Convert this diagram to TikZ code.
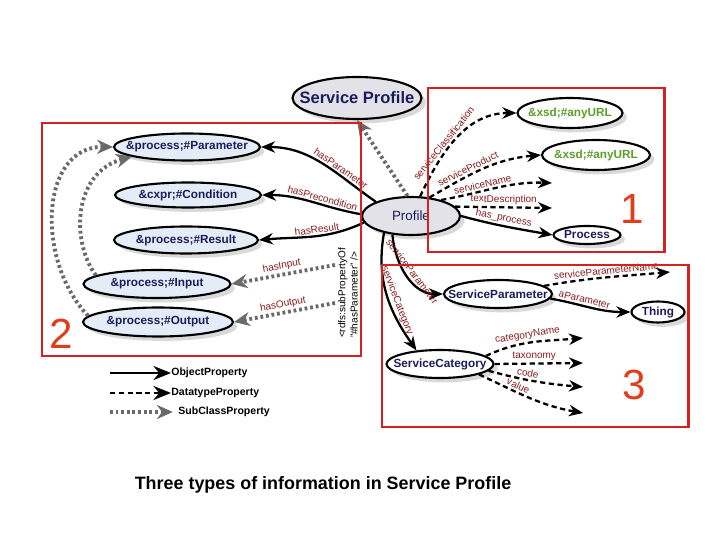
\documentclass[tikz,border=0pt]{standalone}
\usepackage{fontspec}
\setmainfont{Liberation Sans}
\usetikzlibrary{shapes.geometric,arrows.meta,shadows}

\definecolor{labred}{HTML}{8B1A1A}
\definecolor{navy}{HTML}{1C1C5C}
\definecolor{urlgreen}{HTML}{5E9E2C}
\definecolor{paleblue}{HTML}{E4ECF8}
\definecolor{palegray}{HTML}{E2E2E8}
\definecolor{boxred}{HTML}{D42222}
\definecolor{numred}{HTML}{E23C1A}
\definecolor{subgray}{HTML}{6A6A6A}

\tikzset{
  oval/.style={ellipse, draw, line width=1.2pt, inner sep=0pt, fill=white, text=navy,
    font=\fontsize{6.7}{8}\bfseries,
    drop shadow={shadow xshift=2.5pt, shadow yshift=-2.5pt, opacity=0.3},
    execute at begin node={\hbox to 0pt\bgroup\hss},
    execute at end node={\hss\egroup}},
  inoval/.style={oval, fill=paleblue},
  urloval/.style={oval, text=urlgreen},
  objp/.style={line width=1.3pt, -{Stealth[length=8pt,width=6.5pt]}},
  datp/.style={line width=1.3pt, dash pattern=on 3pt off 2pt, -{Stealth[length=8pt,width=6.5pt]}},
  subp/.style={draw=subgray, line width=2.2pt, dash pattern=on 1.6pt off 1.6pt,
    -{Stealth[length=9pt,width=8pt,fill=subgray]}},
  elab/.style={font=\fontsize{5.7}{6.5}\selectfont, text=labred, sloped, above, inner sep=1pt},
  legtxt/.style={font=\fontsize{6}{7}\bfseries, anchor=west, inner sep=0pt},
  regbox/.style={draw=boxred, line width=1.7pt},
  regnum/.style={font=\fontsize{24}{26}\selectfont, text=numred, inner sep=0pt}
}

\begin{document}
\begin{tikzpicture}[x=0.02cm, y=0.02cm]
\useasboundingbox (0,0) rectangle (720,-540);

% top and centre
\node[oval, fill=palegray, minimum width=2.58cm, minimum height=0.84cm,
  font=\fontsize{9.4}{11}\bfseries] (sprof) at (357,-98) {Service Profile};
\node[oval, fill=palegray, minimum width=1.96cm, minimum height=0.76cm,
  font=\fontsize{7.6}{9}\selectfont] (prof) at (411,-216) {Profile};

% region 2
\node[inoval, minimum width=2.92cm, minimum height=0.54cm] (param) at (187,-147) {\&process;\#Parameter};
\node[inoval, minimum width=2.92cm, minimum height=0.5cm] (cond) at (188,-195) {\&cxpr;\#Condition};
\node[inoval, minimum width=2.88cm, minimum height=0.54cm] (result) at (186,-240) {\&process;\#Result};
\node[inoval, minimum width=2.94cm, minimum height=0.56cm] (input) at (157,-284) {\&process;\#Input};
\node[inoval, minimum width=3cm, minimum height=0.58cm] (output) at (158,-322) {\&process;\#Output};

% region 1
\node[urloval, minimum width=2.1cm, minimum height=0.6cm] (url1) at (570,-113) {\&xsd;\#anyURL};
\node[urloval, minimum width=2.16cm, minimum height=0.6cm] (url2) at (596,-155) {\&xsd;\#anyURL};
\node[oval, minimum width=1.34cm, minimum height=0.36cm] (process) at (587,-235) {Process};
\coordinate (nameEnd) at (552,-183);
\coordinate (descEnd) at (552,-208);

% region 3
\node[oval, minimum width=2.16cm, minimum height=0.56cm] (sparam) at (498,-294) {ServiceParameter};
\node[oval, minimum width=1.06cm, minimum height=0.42cm] (thing) at (658,-312) {Thing};
\node[oval, minimum width=2.14cm, minimum height=0.56cm] (scat) at (440,-364) {ServiceCategory};
\coordinate (pnameEnd) at (670,-272);
\coordinate (cnameEnd) at (583,-338);
\coordinate (taxEnd) at (583,-363);
\coordinate (codeEnd) at (583,-387);
\coordinate (valEnd) at (583,-413);

% object properties
\draw[objp] (prof.158) to[out=145, in=0] node[elab, pos=0.35] {hasParameter} (param.east);
\draw[objp] (prof.178) to[out=170, in=0] node[elab, pos=0.4] {hasPrecondition} (cond.east);
\draw[objp] (prof.188) to[out=205, in=5] node[elab, pos=0.45] {hasResult} (result.east);
\draw[objp] (prof.east) to[out=-15, in=170] node[elab, pos=0.45] {has\_process} (process.west);
\draw[objp] (prof.225) to[out=-85, in=180] node[elab, pos=0.5] {serviceParameter} (sparam.west);
\draw[objp] (prof.212) to[out=-100, in=125] node[elab, pos=0.58] {serviceCategory} (scat.150);
\draw[objp] (sparam.-5) to[out=-10, in=180] node[elab, pos=0.4] {aParameter} (thing.west);

% datatype properties
\draw[datp] (prof.65) to[out=65, in=180] node[elab, pos=0.4] {serviceClassification} (url1.west);
\draw[datp] (prof.45) to[out=30, in=185] node[elab, pos=0.38] {serviceProduct} (url2.west);
\draw[datp] (prof.28) to[out=10, in=178] node[elab, pos=0.38] {serviceName} (nameEnd);
\draw[datp] (prof.12) -- node[elab, pos=0.5] {textDescription} (descEnd);
\draw[datp] (sparam.10) to[out=10, in=185] node[elab, pos=0.5] {serviceParameterName} (pnameEnd);
\draw[datp] (scat.10) to[out=25, in=185] node[elab, pos=0.45] {categoryName} (cnameEnd);
\draw[datp] (scat.east) -- node[elab, pos=0.45] {taxonomy} (taxEnd);
\draw[datp] (scat.-8) to[out=-15, in=175] node[elab, pos=0.4] {code} (codeEnd);
\draw[datp] (scat.-15) to[out=-25, in=170] node[elab, pos=0.35] {value} (valEnd);

% subproperties
\node[rotate=90, align=left, inner sep=0pt, font=\fontsize{5.7}{7}\selectfont] (rdfs) at (348,-293)
  {<rdfs:subPropertyOf\\"\#hasParameter" />};
\coordinate (inStart) at (335,-265);
\coordinate (outStart) at (335,-303);
\draw[subp] (inStart) -- node[elab, pos=0.5] {hasInput} (input.east);
\draw[subp] (outStart) -- node[elab, pos=0.5] {hasOutput} (output.east);
\draw[subp] (prof.100) -- (sprof.south);
\draw[subp] (output.175) .. controls (35,-260) and (40,-146) .. (param.west);
\draw[subp] (input.172) .. controls (70,-240) and (74,-172) .. (param.190);

% legend
\coordinate (lgobj) at (110,-373);
\coordinate (lgdat) at (110,-393);
\coordinate (lgsub) at (110,-412);
\node[legtxt] (objtxt) at (171,-373) {ObjectProperty};
\node[legtxt] (dattxt) at (171,-393) {DatatypeProperty};
\node[legtxt] (subtxt) at (178,-412) {SubClassProperty};
\draw[objp, -{Stealth[length=10pt,width=8pt]}] (lgobj) -- (objtxt.west);
\draw[datp, -{Stealth[length=10pt,width=8pt]}] (lgdat) -- (dattxt.west);
\draw[subp] (lgsub) -- ([xshift=-3pt]subtxt.west);

% regions
\draw[regbox] (428,-88) rectangle (664,-252);
\draw[regbox] (42,-123) rectangle (361,-356);
\draw[regbox] (382,-265) rectangle (688,-427);
\node[regnum] (n1) at (632,-209) {1};
\node[regnum] (n2) at (61,-334) {2};
\node[regnum] (n3) at (634,-385) {3};

\node[font=\fontsize{10.2}{12}\bfseries] (caption) at (323,-485)
  {Three types of information in Service Profile};
\end{tikzpicture}
\end{document}
